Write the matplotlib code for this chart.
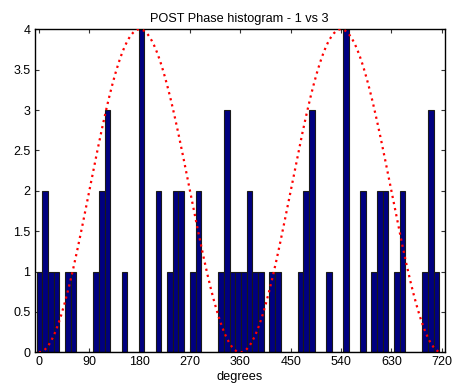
import numpy as np
import matplotlib
matplotlib.use("Agg")
import matplotlib.pyplot as plt

plt.rcParams['font.family'] = ['Liberation Sans', 'DejaVu Sans']

# Phase histogram counts for one cycle (36 bins), repeated for the second cycle
cycle_counts = [1, 2, 1, 1, 0, 1, 1, 0, 0, 0,
                1, 2, 3, 0, 0, 1, 0, 0, 4, 0,
                0, 2, 0, 1, 2, 2, 0, 1, 2, 0,
                0, 0, 1, 3, 1, 1]
n_bars = 71
counts = (cycle_counts * 2)[:n_bars]

bin_width = 10.14
first_center = 1.0

# Reference cosine curve (peak height and period in degrees)
curve_peak = 4.0
curve_period = 360.0

xticks = [0, 90, 180, 270, 360, 450, 540, 630, 720]
yticks = [0, 0.5, 1, 1.5, 2, 2.5, 3, 3.5, 4]
title = "POST Phase histogram - 1 vs 3"
xlabel = "degrees"

fig = plt.figure(figsize=(4.54, 3.88), dpi=100)
ax = fig.add_axes([0.0764, 0.092, 0.9031, 0.8325])

centers = first_center + bin_width * np.arange(n_bars)
ax.bar(centers, counts, width=bin_width, color='#000080',
       edgecolor='#1a1a1a', linewidth=0.8, zorder=2)

xc = np.linspace(0, 720, 400)
yc = curve_peak / 2 * (1 - np.cos(2 * np.pi * xc / curve_period))
ax.plot(xc, yc, color='red', linestyle=(0, (1, 1.8)), linewidth=1.6, zorder=3)

ax.set_xlim(-7.7, 725.4)
ax.set_ylim(0, 4)
ax.set_xticks(xticks)
ax.set_yticks(yticks)
ax.set_xticklabels([str(t) for t in xticks])
ax.set_yticklabels(['0', '0.5', '1', '1.5', '2', '2.5', '3', '3.5', '4'])
ax.tick_params(direction='in', length=3, width=0.8, color='#333333',
               labelsize=9, top=True, right=True, pad=3)
for s in ax.spines.values():
    s.set_linewidth(1.0)
    s.set_color('black')

ax.set_title(title, fontsize=9.2, pad=5)
ax.set_xlabel(xlabel, fontsize=9.2, labelpad=2)

fig.savefig("out.png", dpi=100)
